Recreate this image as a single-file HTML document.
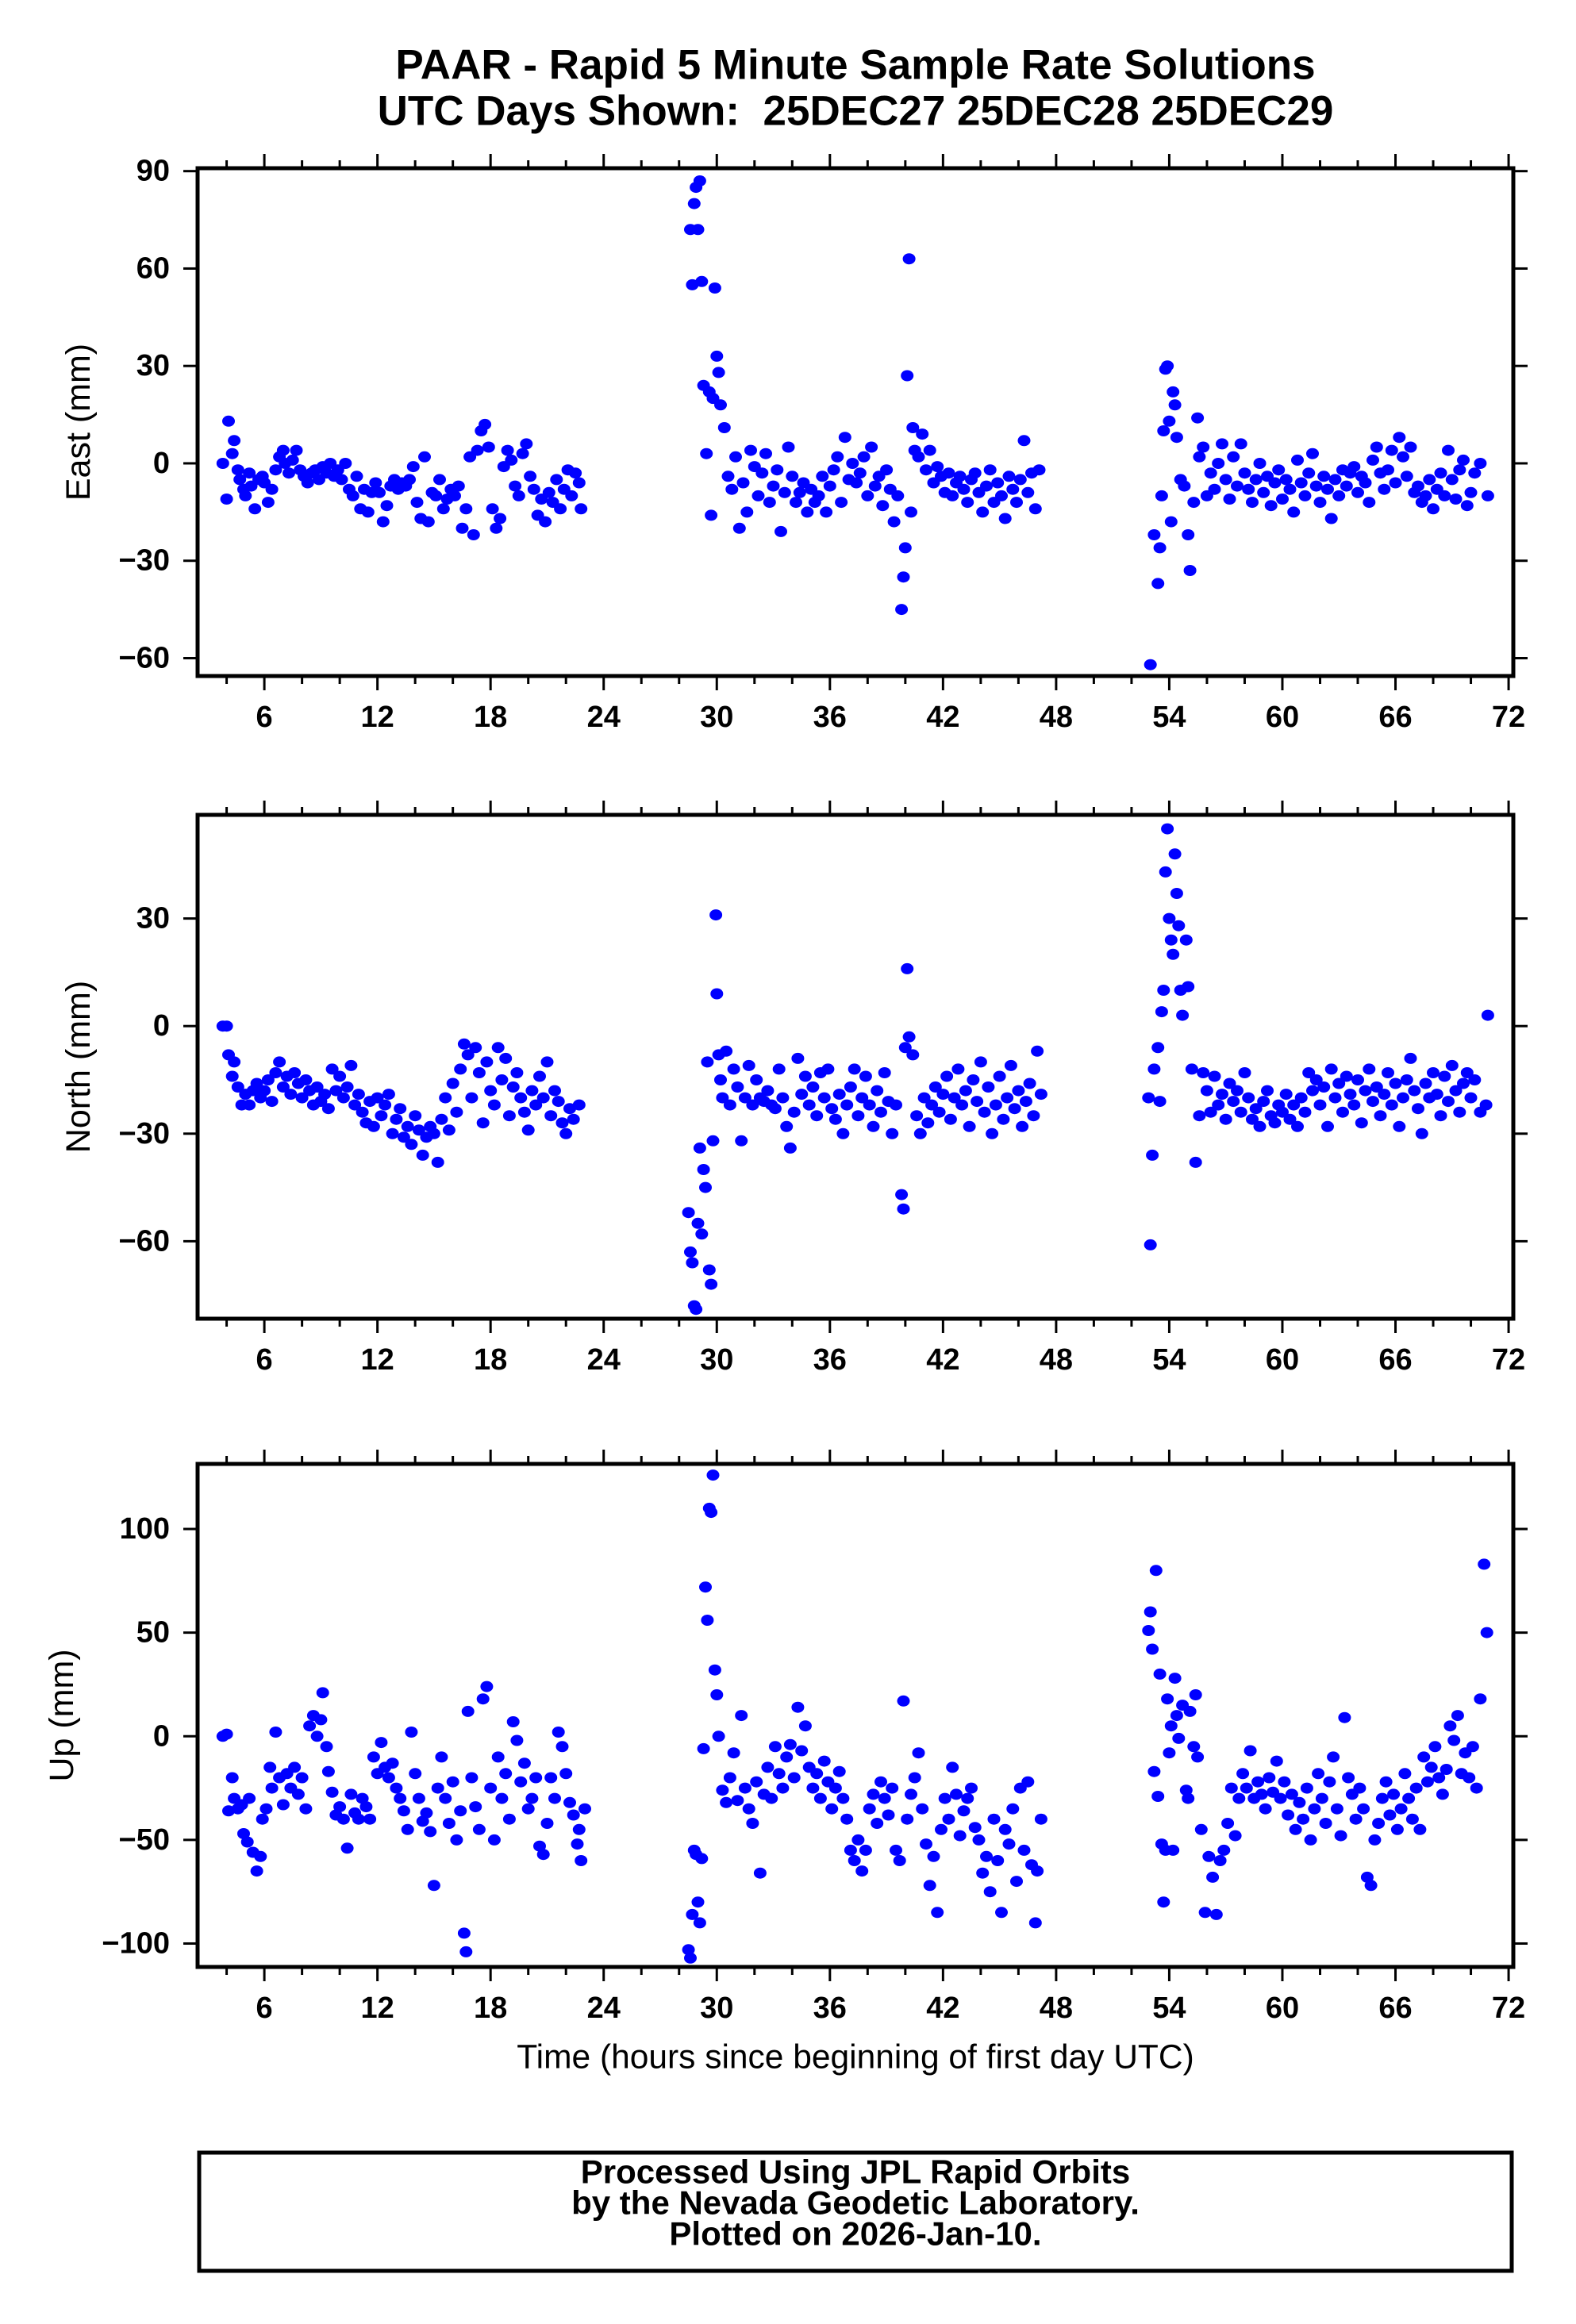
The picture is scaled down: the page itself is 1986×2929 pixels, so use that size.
<!DOCTYPE html>
<html><head><meta charset="utf-8"><title>PAAR Rapid 5 Minute Solutions</title>
<style>
html,body{margin:0;padding:0;background:#fff;}
svg{display:block;font-family:"Liberation Sans",Arial,sans-serif;}
</style></head>
<body>
<svg id="chart" width="1986" height="2929" viewBox="0 0 1986 2929" xmlns="http://www.w3.org/2000/svg">
<text x="1078" y="82" text-anchor="middle" dominant-baseline="central" font-weight="bold" font-size="53">PAAR - Rapid 5 Minute Sample Rate Solutions</text>
<text x="1078" y="140" text-anchor="middle" dominant-baseline="central" font-weight="bold" font-size="53" xml:space="preserve">UTC Days Shown:  25DEC27 25DEC28 25DEC29</text>
<text x="1078" y="2593" text-anchor="middle" dominant-baseline="central" font-size="42.5">Time (hours since beginning of first day UTC)</text>
<rect x="251" y="2713" width="1654" height="149" fill="none" stroke="#000" stroke-width="5"/>
<text x="1078" y="2737" text-anchor="middle" dominant-baseline="central" font-weight="bold" font-size="42">Processed Using JPL Rapid Orbits</text>
<text x="1078" y="2776" text-anchor="middle" dominant-baseline="central" font-weight="bold" font-size="42">by the Nevada Geodetic Laboratory.</text>
<text x="1078" y="2815" text-anchor="middle" dominant-baseline="central" font-weight="bold" font-size="42">Plotted on 2026-Jan-10.</text>
</svg>
<script>
const xMajorTicks = [6,12,18,24,30,36,42,48,54,60,66,72];
const xMinorTicks = [4,8,10,14,16,20,22,26,28,32,34,38,40,44,46,50,52,56,58,62,64,68,70];
const eastTicks = [90,60,30,0,-30,-60];
const northTicks = [30,0,-30,-60];
const upTicks = [100,50,0,-50,-100];

const eastData = [[3.8,0],[4.0,-11],[4.1,13],[4.3,3],[4.4,7],[4.6,-2],[4.7,-5],[4.9,-8],[5.0,-10],[5.2,-3],[5.3,-7],[5.5,-14],[5.7,-5],[5.9,-4],[6.0,-6],[6.2,-12],[6.4,-8],[6.6,-2],[6.8,2],[7.0,4],[7.1,0],[7.3,-3],[7.5,1],[7.7,4],[7.9,-2],[8.1,-4],[8.3,-6],[8.5,-3],[8.7,-2],[8.9,-5],[9.1,-1],[9.3,-3],[9.5,0],[9.7,-4],[9.9,-2],[10.1,-5],[10.3,0],[10.5,-8],[10.7,-10],[10.9,-4],[11.1,-14],[11.3,-8],[11.5,-15],[11.7,-9],[11.9,-6],[12.1,-9],[12.3,-18],[12.5,-13],[12.7,-7],[12.9,-5],[13.1,-8],[13.3,-6],[13.5,-7],[13.7,-5],[13.9,-1],[14.1,-12],[14.3,-17],[14.5,2],[14.7,-18],[14.9,-9],[15.1,-10],[15.3,-5],[15.5,-14],[15.7,-11],[15.9,-8],[16.1,-10],[16.3,-7],[16.5,-20],[16.7,-14],[16.9,2],[17.1,-22],[17.3,4],[17.5,10],[17.7,12],[17.9,5],[18.1,-14],[18.3,-20],[18.5,-17],[18.7,-1],[18.9,4],[19.1,1],[19.3,-7],[19.5,-10],[19.7,3],[19.9,6],[20.1,-4],[20.3,-8],[20.5,-16],[20.7,-11],[20.9,-18],[21.1,-9],[21.3,-12],[21.5,-5],[21.7,-14],[21.9,-8],[22.1,-2],[22.3,-10],[22.5,-3],[22.7,-6],[22.8,-14],
[28.6,72],[28.7,55],[28.8,80],[28.9,85],[29.0,72],[29.1,87],[29.2,56],[29.3,24],[29.45,3],[29.6,22],[29.7,-16],[29.8,20],[29.9,54],[30.0,33],[30.1,28],[30.2,18],[30.4,11],[30.6,-4],[30.8,-8],[31.0,2],[31.2,-20],[31.4,-6],[31.6,-15],[31.8,4],[32.0,-1],[32.2,-10],[32.4,-3],[32.6,3],[32.8,-12],[33.0,-7],[33.2,-2],[33.4,-21],[33.6,-9],[33.8,5],[34.0,-4],[34.2,-12],[34.4,-9],[34.6,-6],[34.8,-15],[35.0,-8],[35.2,-12],[35.4,-10],[35.6,-4],[35.8,-15],[36.0,-7],[36.2,-2],[36.4,2],[36.6,-12],[36.8,8],[37.0,-5],[37.2,0],[37.4,-6],[37.6,-3],[37.8,2],[38.0,-10],[38.2,5],[38.4,-7],[38.6,-4],[38.8,-13],[39.0,-2],[39.2,-8],[39.4,-18],[39.6,-10],[39.8,-45],[39.9,-35],[40.0,-26],[40.1,27],[40.2,63],[40.3,-15],[40.4,11],[40.5,4],[40.7,2],[40.9,9],[41.1,-2],[41.3,4],[41.5,-6],[41.7,-1],[41.9,-4],[42.1,-9],[42.3,-3],[42.5,-10],[42.7,-6],[42.9,-4],[43.1,-8],[43.3,-12],[43.5,-5],[43.7,-3],[43.9,-9],[44.1,-15],[44.3,-7],[44.5,-2],[44.7,-12],[44.9,-6],[45.1,-10],[45.3,-17],[45.5,-4],[45.7,-8],[45.9,-12],[46.1,-5],[46.3,7],[46.5,-9],[46.7,-3],[46.9,-14],[47.1,-2],
[53.0,-62],[53.2,-22],[53.4,-37],[53.5,-26],[53.6,-10],[53.7,10],[53.8,29],[53.9,30],[54.0,13],[54.1,-18],[54.2,22],[54.3,18],[54.4,8],[54.6,-5],[54.8,-7],[55.0,-22],[55.1,-33],[55.3,-12],[55.5,14],[55.6,2],[55.8,5],[56.0,-10],[56.2,-3],[56.4,-8],[56.6,0],[56.8,6],[57.0,-5],[57.2,-11],[57.4,2],[57.6,-7],[57.8,6],[58.0,-3],[58.2,-8],[58.4,-12],[58.6,-5],[58.8,0],[59.0,-9],[59.2,-4],[59.4,-13],[59.6,-6],[59.8,-2],[60.0,-11],[60.2,-5],[60.4,-8],[60.6,-15],[60.8,1],[61.0,-6],[61.2,-10],[61.4,-3],[61.6,3],[61.8,-7],[62.0,-12],[62.2,-4],[62.4,-8],[62.6,-17],[62.8,-5],[63.0,-10],[63.2,-2],[63.4,-7],[63.6,-3],[63.8,-1],[64.0,-9],[64.2,-4],[64.4,-6],[64.6,-12],[64.8,1],[65.0,5],[65.2,-3],[65.4,-8],[65.6,-2],[65.8,4],[66.0,-6],[66.2,8],[66.4,2],[66.6,-4],[66.8,5],[67.0,-9],[67.2,-7],[67.4,-12],[67.6,-10],[67.8,-5],[68.0,-14],[68.2,-8],[68.4,-3],[68.6,-10],[68.8,4],[69.0,-5],[69.2,-11],[69.4,-2],[69.6,1],[69.8,-13],[70.0,-9],[70.2,-3],[70.5,0],[70.9,-10]];

const northData = [[3.8,0],[4.0,0],[4.1,-8],[4.3,-14],[4.4,-10],[4.6,-17],[4.8,-22],[5.0,-19],[5.2,-22],[5.4,-18],[5.6,-16],[5.8,-20],[6.0,-18],[6.2,-15],[6.4,-21],[6.6,-13],[6.8,-10],[7.0,-17],[7.2,-14],[7.4,-19],[7.6,-13],[7.8,-16],[8.0,-20],[8.2,-15],[8.4,-18],[8.6,-22],[8.8,-17],[9.0,-21],[9.2,-19],[9.4,-23],[9.6,-12],[9.8,-18],[10.0,-14],[10.2,-20],[10.4,-17],[10.6,-11],[10.8,-22],[11.0,-19],[11.2,-24],[11.4,-27],[11.6,-21],[11.8,-28],[12.0,-20],[12.2,-25],[12.4,-22],[12.6,-19],[12.8,-30],[13.0,-26],[13.2,-23],[13.4,-31],[13.6,-28],[13.8,-33],[14.0,-25],[14.2,-29],[14.4,-36],[14.6,-31],[14.8,-28],[15.0,-30],[15.2,-38],[15.4,-26],[15.6,-20],[15.8,-29],[16.0,-16],[16.2,-24],[16.4,-12],[16.6,-5],[16.8,-8],[17.0,-20],[17.2,-6],[17.4,-13],[17.6,-27],[17.8,-10],[18.0,-18],[18.2,-22],[18.4,-6],[18.6,-15],[18.8,-9],[19.0,-25],[19.2,-17],[19.4,-13],[19.6,-20],[19.8,-24],[20.0,-29],[20.2,-18],[20.4,-22],[20.6,-14],[20.8,-20],[21.0,-10],[21.2,-25],[21.4,-18],[21.6,-21],[21.8,-27],[22.0,-30],[22.2,-23],[22.4,-26],[22.7,-22],
[28.5,-52],[28.6,-63],[28.7,-66],[28.8,-78],[28.9,-79],[29.0,-55],[29.1,-34],[29.2,-58],[29.3,-40],[29.4,-45],[29.5,-10],[29.6,-68],[29.7,-72],[29.8,-32],[29.95,31],[30.0,9],[30.1,-8],[30.2,-15],[30.3,-20],[30.5,-7],[30.7,-22],[30.9,-12],[31.1,-17],[31.3,-32],[31.5,-20],[31.7,-11],[31.9,-22],[32.1,-15],[32.3,-20],[32.5,-21],[32.7,-18],[32.9,-22],[33.1,-23],[33.3,-12],[33.5,-20],[33.7,-28],[33.9,-34],[34.1,-24],[34.3,-9],[34.5,-19],[34.7,-14],[34.9,-22],[35.1,-17],[35.3,-25],[35.5,-13],[35.7,-20],[35.9,-12],[36.1,-23],[36.3,-26],[36.5,-19],[36.7,-30],[36.9,-22],[37.1,-17],[37.3,-12],[37.5,-25],[37.7,-20],[37.9,-14],[38.1,-22],[38.3,-28],[38.5,-18],[38.7,-24],[38.9,-13],[39.1,-21],[39.3,-30],[39.5,-22],[39.8,-47],[39.9,-51],[40.0,-6],[40.1,16],[40.2,-3],[40.4,-8],[40.6,-25],[40.8,-30],[41.0,-20],[41.2,-27],[41.4,-22],[41.6,-17],[41.8,-24],[42.0,-19],[42.2,-14],[42.4,-26],[42.6,-20],[42.8,-12],[43.0,-22],[43.2,-18],[43.4,-28],[43.6,-15],[43.8,-21],[44.0,-10],[44.2,-24],[44.4,-17],[44.6,-30],[44.8,-22],[45.0,-14],[45.2,-26],[45.4,-20],[45.6,-11],[45.8,-23],[46.0,-18],[46.2,-28],[46.4,-21],[46.6,-16],[46.8,-25],[47.0,-7],[47.2,-19],
[52.9,-20],[53.0,-61],[53.1,-36],[53.2,-12],[53.4,-6],[53.5,-21],[53.6,4],[53.7,10],[53.8,43],[53.9,55],[54.0,30],[54.1,24],[54.2,20],[54.3,48],[54.4,37],[54.5,28],[54.6,10],[54.7,3],[54.9,24],[55.0,11],[55.2,-12],[55.4,-38],[55.6,-25],[55.8,-13],[56.0,-18],[56.2,-24],[56.4,-14],[56.6,-22],[56.8,-19],[57.0,-26],[57.2,-16],[57.4,-21],[57.6,-18],[57.8,-24],[58.0,-13],[58.2,-20],[58.4,-26],[58.6,-23],[58.8,-28],[59.0,-21],[59.2,-18],[59.4,-25],[59.6,-27],[59.8,-22],[60.0,-24],[60.2,-19],[60.4,-26],[60.6,-22],[60.8,-28],[61.0,-20],[61.2,-24],[61.4,-13],[61.6,-18],[61.8,-15],[62.0,-22],[62.2,-17],[62.4,-28],[62.6,-12],[62.8,-20],[63.0,-16],[63.2,-24],[63.4,-14],[63.6,-19],[63.8,-22],[64.0,-15],[64.2,-27],[64.4,-18],[64.6,-12],[64.8,-21],[65.0,-17],[65.2,-25],[65.4,-19],[65.6,-13],[65.8,-22],[66.0,-16],[66.2,-28],[66.4,-20],[66.6,-15],[66.8,-9],[67.0,-18],[67.2,-23],[67.4,-30],[67.6,-16],[67.8,-20],[68.0,-13],[68.2,-19],[68.4,-25],[68.6,-14],[68.8,-21],[69.0,-11],[69.2,-18],[69.4,-24],[69.6,-16],[69.8,-13],[70.0,-20],[70.2,-15],[70.5,-24],[70.8,-22],[70.9,3]];

const upData = [[3.8,0],[4.0,1],[4.1,-36],[4.3,-20],[4.4,-30],[4.6,-35],[4.8,-33],[4.9,-47],[5.1,-51],[5.2,-30],[5.4,-56],[5.6,-65],[5.8,-58],[5.9,-40],[6.1,-35],[6.3,-15],[6.4,-25],[6.6,2],[6.8,-20],[7.0,-33],[7.2,-18],[7.4,-25],[7.6,-15],[7.8,-28],[8.0,-20],[8.2,-35],[8.4,5],[8.6,10],[8.8,0],[9.0,8],[9.1,21],[9.3,-5],[9.4,-17],[9.6,-27],[9.8,-38],[10.0,-34],[10.2,-40],[10.4,-54],[10.6,-28],[10.8,-37],[11.0,-40],[11.2,-30],[11.4,-34],[11.6,-40],[11.8,-10],[12.0,-18],[12.2,-3],[12.4,-15],[12.6,-20],[12.8,-13],[13.0,-25],[13.2,-30],[13.4,-36],[13.6,-45],[13.8,2],[14.0,-18],[14.2,-30],[14.4,-41],[14.6,-37],[14.8,-46],[15.0,-72],[15.2,-25],[15.4,-10],[15.6,-30],[15.8,-42],[16.0,-22],[16.2,-50],[16.4,-36],[16.6,-95],[16.7,-104],[16.8,12],[17.0,-20],[17.2,-34],[17.4,-45],[17.6,18],[17.8,24],[18.0,-25],[18.2,-50],[18.4,-10],[18.6,-30],[18.8,-18],[19.0,-40],[19.2,7],[19.4,-2],[19.6,-22],[19.8,-13],[20.0,-35],[20.2,-30],[20.4,-20],[20.6,-53],[20.8,-57],[21.0,-42],[21.2,-20],[21.4,-30],[21.6,2],[21.8,-5],[22.0,-18],[22.2,-32],[22.4,-38],[22.6,-52],[22.7,-45],[22.8,-60],[23.0,-35],
[28.5,-103],[28.6,-107],[28.7,-86],[28.8,-55],[28.9,-57],[29.0,-80],[29.1,-90],[29.2,-59],[29.3,-6],[29.4,72],[29.5,56],[29.6,110],[29.7,108],[29.8,126],[29.9,32],[30.0,20],[30.1,0],[30.3,-26],[30.5,-32],[30.7,-20],[30.9,-8],[31.1,-31],[31.3,10],[31.5,-25],[31.7,-35],[31.9,-42],[32.1,-22],[32.3,-66],[32.5,-28],[32.7,-15],[32.9,-30],[33.1,-5],[33.3,-18],[33.5,-25],[33.7,-10],[33.9,-4],[34.1,-20],[34.3,14],[34.5,-7],[34.7,5],[34.9,-15],[35.1,-25],[35.3,-18],[35.5,-30],[35.7,-12],[35.9,-22],[36.1,-35],[36.3,-25],[36.5,-17],[36.7,-30],[36.9,-40],[37.1,-55],[37.3,-60],[37.5,-50],[37.7,-65],[37.9,-55],[38.1,-35],[38.3,-28],[38.5,-42],[38.7,-22],[38.9,-30],[39.1,-38],[39.3,-25],[39.5,-55],[39.7,-60],[39.9,17],[40.1,-40],[40.3,-28],[40.5,-20],[40.7,-8],[40.9,-35],[41.1,-52],[41.3,-72],[41.5,-58],[41.7,-85],[41.9,-45],[42.1,-30],[42.3,-40],[42.5,-15],[42.7,-28],[42.9,-48],[43.1,-36],[43.3,-30],[43.5,-25],[43.7,-44],[43.9,-50],[44.1,-66],[44.3,-58],[44.5,-75],[44.7,-40],[44.9,-60],[45.1,-85],[45.3,-45],[45.5,-52],[45.7,-35],[45.9,-70],[46.1,-25],[46.3,-55],[46.5,-22],[46.7,-62],[46.9,-90],[47.0,-65],[47.2,-40],
[52.9,51],[53.0,60],[53.1,42],[53.2,-17],[53.3,80],[53.4,-29],[53.5,30],[53.6,-52],[53.7,-80],[53.8,-55],[53.9,18],[54.0,-8],[54.1,5],[54.2,-55],[54.3,28],[54.4,10],[54.5,-1],[54.7,15],[54.9,-26],[55.0,-30],[55.1,12],[55.3,-5],[55.4,20],[55.5,-10],[55.7,-45],[55.9,-85],[56.1,-58],[56.3,-68],[56.5,-86],[56.7,-60],[56.9,-55],[57.1,-42],[57.3,-25],[57.5,-48],[57.7,-30],[57.9,-18],[58.1,-25],[58.3,-7],[58.5,-30],[58.7,-22],[58.9,-28],[59.1,-35],[59.3,-20],[59.5,-27],[59.7,-12],[59.9,-30],[60.1,-22],[60.3,-38],[60.5,-28],[60.7,-45],[60.9,-32],[61.1,-40],[61.3,-25],[61.5,-50],[61.7,-35],[61.9,-18],[62.1,-30],[62.3,-42],[62.5,-22],[62.7,-10],[62.9,-35],[63.1,-48],[63.3,9],[63.5,-20],[63.7,-28],[63.9,-40],[64.1,-25],[64.3,-35],[64.5,-68],[64.7,-72],[64.9,-50],[65.1,-42],[65.3,-30],[65.5,-22],[65.7,-38],[65.9,-28],[66.1,-45],[66.3,-35],[66.5,-18],[66.7,-30],[66.9,-40],[67.1,-25],[67.3,-45],[67.5,-10],[67.7,-22],[67.9,-15],[68.1,-5],[68.3,-20],[68.5,-28],[68.7,-16],[68.9,5],[69.1,-2],[69.3,10],[69.5,-18],[69.7,-8],[69.9,-20],[70.1,-5],[70.3,-25],[70.5,18],[70.7,83],[70.85,50]];

const NS = 'http://www.w3.org/2000/svg';
const svg = document.getElementById('chart');
const X0 = 249, X1 = 1907, HMIN = 2.46, HMAX = 72.25;
function xScale(h){ return X0 + (h - HMIN) / (HMAX - HMIN) * (X1 - X0); }
function mk(tag, attrs){ const e = document.createElementNS(NS, tag); for (const k in attrs) e.setAttribute(k, attrs[k]); return e; }

const panels = [
  {key:'east', label:'East (mm)', top:212, bottom:852, vmin:-65.5, vmax:90.9, ticks:eastTicks, data:eastData, lx:99},
  {key:'north', label:'North (mm)', top:1027, bottom:1662, vmin:-81.6, vmax:58.9, ticks:northTicks, data:northData, lx:99},
  {key:'up', label:'Up (mm)', top:1845, bottom:2479, vmin:-111.3, vmax:131.4, ticks:upTicks, data:upData, lx:78}
];

panels.forEach(p => {
  const yScale = v => p.bottom - (v - p.vmin) / (p.vmax - p.vmin) * (p.bottom - p.top);
  const g = mk('g', {});
  
  
  svg.appendChild(g);

  const pts = mk('g', {fill:'#0000ff'});
  
  
  g.appendChild(pts);
  p.data.forEach(d => {
    const c = mk('ellipse', {cx: xScale(d[0]).toFixed(1), cy: yScale(d[1]).toFixed(1), rx: 8, ry: 7});
    
    
    pts.appendChild(c);
  });

  const fr = mk('rect', {x: X0, y: p.top, width: X1 - X0, height: p.bottom - p.top, fill:'none', stroke:'#000', 'stroke-width':5});
  
  
  g.appendChild(fr);

  const xt = mk('g', {stroke:'#000', 'stroke-width':3});
  
  
  g.appendChild(xt);
  xMajorTicks.forEach(h => {
    const x = xScale(h);
    xt.appendChild(mk('line', {x1:x, x2:x, y1:p.bottom + 2, y2:p.bottom + 18}));
    xt.appendChild(mk('line', {x1:x, x2:x, y1:p.top - 2, y2:p.top - 18}));
    const t = mk('text', {x:x, y:p.bottom + 52, 'text-anchor':'middle', 'dominant-baseline':'central', 'font-size':38, 'font-weight':'bold'});
    
    
    t.textContent = String(h);
    g.appendChild(t);
  });
  xMinorTicks.forEach(h => {
    const x = xScale(h);
    xt.appendChild(mk('line', {x1:x, x2:x, y1:p.bottom + 2, y2:p.bottom + 10}));
    xt.appendChild(mk('line', {x1:x, x2:x, y1:p.top - 2, y2:p.top - 10}));
  });

  const yt = mk('g', {stroke:'#000', 'stroke-width':3});
  
  
  g.appendChild(yt);
  p.ticks.forEach(v => {
    const y = yScale(v);
    yt.appendChild(mk('line', {x1:X0 - 2, x2:X0 - 18, y1:y, y2:y}));
    yt.appendChild(mk('line', {x1:X1 + 2, x2:X1 + 18, y1:y, y2:y}));
    const t = mk('text', {x:214, y:y, 'text-anchor':'end', 'dominant-baseline':'central', 'font-size':38, 'font-weight':'bold'});
    
    
    t.textContent = v < 0 ? '\u2212' + Math.abs(v) : String(v);
    g.appendChild(t);
  });

  const cy = (p.top + p.bottom) / 2;
  const yl = mk('text', {x:p.lx, y:cy, 'text-anchor':'middle', 'dominant-baseline':'central', 'font-size':43, transform:'rotate(-90 ' + p.lx + ' ' + cy + ')'});
  
  
  yl.textContent = p.label;
  g.appendChild(yl);
});
</script>
</body></html>
